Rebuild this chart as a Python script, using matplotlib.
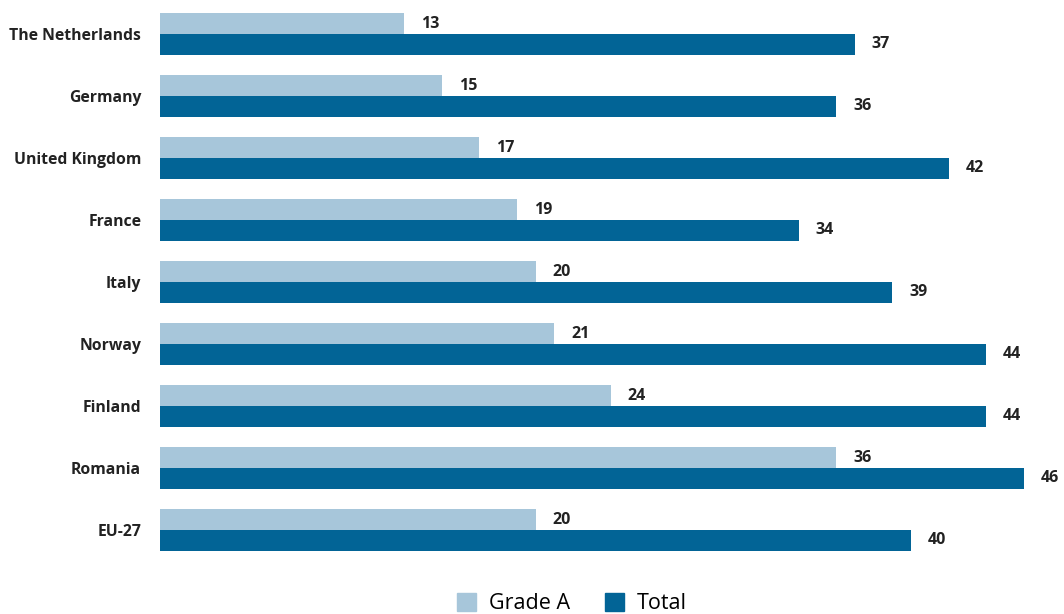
import matplotlib
matplotlib.use("Agg")
import matplotlib.pyplot as plt
from matplotlib.patches import Patch

categories = ["The Netherlands", "Germany", "United Kingdom", "France", "Italy",
              "Norway", "Finland", "Romania", "EU-27"]
grade_a = [13, 15, 17, 19, 20, 21, 24, 36, 20]
total = [37, 36, 42, 34, 39, 44, 44, 46, 40]
series_names = ["Grade A", "Total"]

c_light = "#a7c6da"
c_dark = "#026496"

plt.rcParams['font.family'] = ['Open Sans', 'DejaVu Sans']

W, H = 1064, 614
fig = plt.figure(figsize=(W / 100, H / 100), dpi=100)
ax_left = 160 / W
ax_w = 48 * 18.78 / W
ax = fig.add_axes([ax_left, 1 - 570 / H, ax_w, 570 / H])

bh = 21 / 62
ys = list(range(len(categories)))
ax.barh([y - bh / 2 for y in ys], grade_a, height=bh, color=c_light, label=series_names[0])
ax.barh([y + bh / 2 for y in ys], total, height=bh, color=c_dark, label=series_names[1])

for y, a, t in zip(ys, grade_a, total):
    ax.text(a + 0.9, y - bh / 2 + 0.01, f"{a}", va="center", ha="left", fontsize=11.5,
            fontweight="bold", color="#222222")
    ax.text(t + 0.9, y + bh / 2, f"{t}", va="center", ha="left", fontsize=11.5,
            fontweight="bold", color="#222222")

ax.set_xlim(0, 48)
ax.set_ylim(8 + 40 / 62, -34 / 62)
ax.set_yticks(ys)
ax.set_yticklabels(categories, fontsize=11.3, fontweight="bold", color="#222222")
ax.tick_params(axis="y", length=0, pad=13.5)
ax.set_xticks([])
for s in ax.spines.values():
    s.set_visible(False)

handles = [Patch(color=c_light), Patch(color=c_dark)]
fig.legend(handles, series_names, loc="lower center", bbox_to_anchor=(572 / W, -0.032),
           ncol=2, frameon=False, fontsize=15.5, handlelength=0.9, handleheight=0.9,
           columnspacing=1.6, handletextpad=0.6)

fig.savefig("out.png", dpi=100)
